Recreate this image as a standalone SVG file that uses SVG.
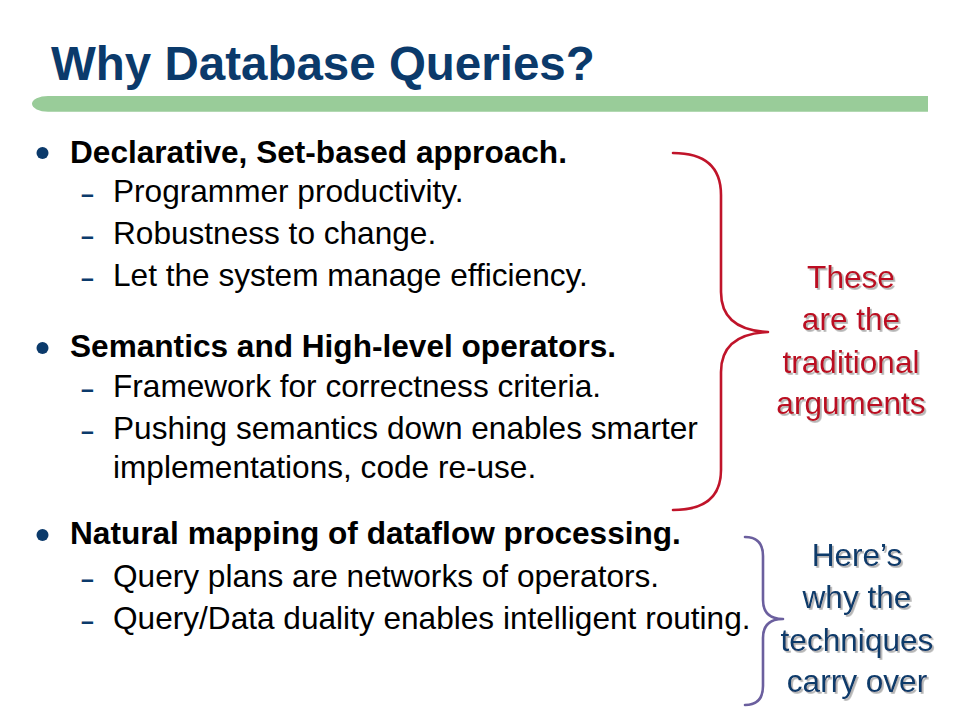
<svg xmlns="http://www.w3.org/2000/svg" width="960" height="720" viewBox="0 0 960 720">
<defs>
<style>
.title{font-family:"Liberation Sans",Arial,sans-serif;font-weight:bold;font-size:47.5px;fill:#0b3a6b}
.b1{font-family:"Liberation Sans",Arial,sans-serif;font-weight:bold;font-size:31.6px;fill:#000}
.b2{font-family:"Liberation Sans",Arial,sans-serif;font-size:31.6px;fill:#000}
.dash{font-family:"Liberation Sans",Arial,sans-serif;font-weight:bold;font-size:23px;fill:#0b3a6b}
.dot{fill:#0b3a6b}
.red{font-family:"Liberation Sans",Arial,sans-serif;font-size:31.6px;fill:#bb1020;text-anchor:middle}
.blue{font-family:"Liberation Sans",Arial,sans-serif;font-size:31.6px;fill:#0b3a6b;text-anchor:middle}
.brace{fill:none;stroke-width:2.6;stroke-linecap:round;stroke-linejoin:round}
</style>
<filter id="sh" x="-10%" y="-10%" width="130%" height="140%">
<feDropShadow dx="1.8" dy="1.8" stdDeviation="0.7" flood-color="#999999" flood-opacity="0.75"/>
</filter>
</defs>
<rect width="960" height="720" fill="#ffffff"/>
<g id="title">
<text class="title" x="51" y="80">Why Database Queries?</text>
<path d="M928,96 H48 A16,7.85 0 0 0 48,111.7 H928 Z" fill="#99cc99"/>
</g>
<g id="bullets">
<circle class="dot" cx="42.5" cy="153" r="6"/>
<text class="b1" x="70" y="163">Declarative, Set-based approach.</text>
<text class="dash" x="81" y="202">–</text>
<text class="b2" x="113" y="202">Programmer productivity.</text>
<text class="dash" x="81" y="244">–</text>
<text class="b2" x="113" y="244">Robustness to change.</text>
<text class="dash" x="81" y="286">–</text>
<text class="b2" x="113" y="286">Let the system manage efficiency.</text>
<circle class="dot" cx="42.5" cy="348" r="6"/>
<text class="b1" x="70" y="357">Semantics and High-level operators.</text>
<text class="dash" x="81" y="397">–</text>
<text class="b2" x="113" y="397">Framework for correctness criteria.</text>
<text class="dash" x="81" y="439">–</text>
<text class="b2" x="113" y="439">Pushing semantics down enables smarter</text>
<text class="b2" x="113" y="478">implementations, code re-use.</text>
<circle class="dot" cx="42.5" cy="535" r="6"/>
<text class="b1" x="70" y="544">Natural mapping of dataflow processing.</text>
<text class="dash" x="81" y="587">–</text>
<text class="b2" x="113" y="587">Query plans are networks of operators.</text>
<text class="dash" x="81" y="629">–</text>
<text class="b2" x="113" y="629">Query/Data duality enables intelligent routing.</text>
</g>
<g id="connectors">
<path class="brace" stroke="#c0142a" d="M673,153 Q721,153 721,195 L721,292 Q721,330 768,332 Q721,334 721,372 L721,470 Q721,510 673,510"/>
<path class="brace" stroke="#6b5f9e" d="M745,537 Q763,537 763,556 L763,600 Q763,619 783,619 Q763,619 763,638 L763,686 Q763,705 745,705"/>
</g>
<g id="note-traditional" filter="url(#sh)">
<text class="red" x="851" y="288">These</text>
<text class="red" x="851" y="330">are the</text>
<text class="red" x="851" y="373">traditional</text>
<text class="red" x="851" y="414">arguments</text>
</g>
<g id="note-carry" filter="url(#sh)">
<text class="blue" x="857" y="566">Here’s</text>
<text class="blue" x="857" y="608">why the</text>
<text class="blue" x="857" y="651">techniques</text>
<text class="blue" x="857" y="692">carry over</text>
</g>
</svg>
